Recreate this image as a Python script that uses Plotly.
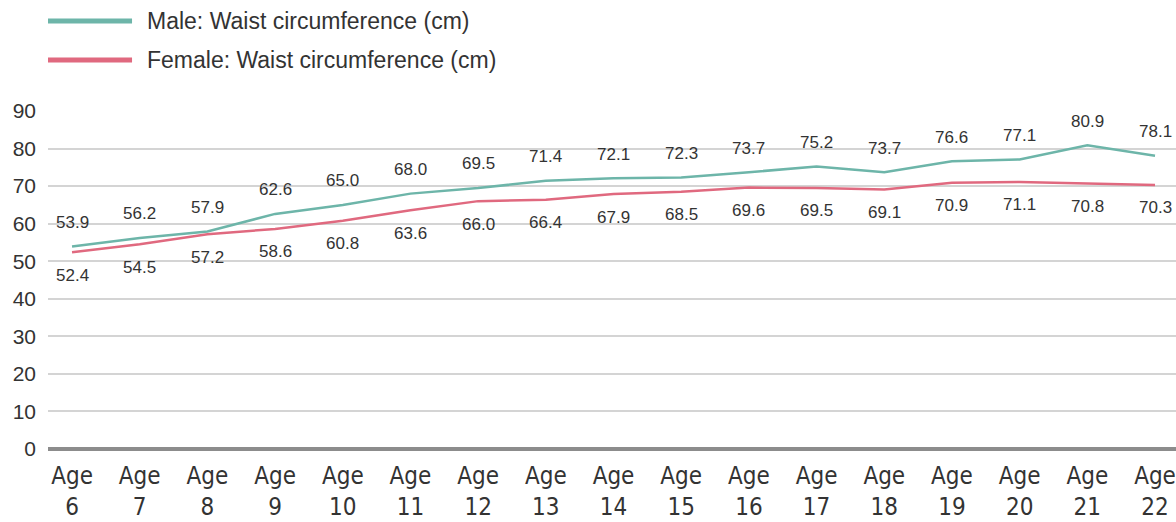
import plotly.graph_objects as go

ages = ["6", "7", "8", "9", "10", "11", "12", "13", "14", "15", "16", "17", "18", "19", "20", "21", "22"]
male = [53.9, 56.2, 57.9, 62.6, 65.0, 68.0, 69.5, 71.4, 72.1, 72.3, 73.7, 75.2, 73.7, 76.6, 77.1, 80.9, 78.1]
female = [52.4, 54.5, 57.2, 58.6, 60.8, 63.6, 66.0, 66.4, 67.9, 68.5, 69.6, 69.5, 69.1, 70.9, 71.1, 70.8, 70.3]
y_ticks = [0, 10, 20, 30, 40, 50, 60, 70, 80, 90]
male_name = "Male: Waist circumference (cm)"
female_name = "Female: Waist circumference (cm)"

MALE_C = "#6db5a9"
FEMALE_C = "#e0697f"
TXT = "#333333"

xs = list(range(len(ages)))
fig = go.Figure()
fig.add_trace(go.Scatter(x=xs, y=male, mode="lines", line=dict(color=MALE_C, width=2.5),
                         name=male_name, showlegend=False, hoverinfo="y"))
fig.add_trace(go.Scatter(x=xs, y=female, mode="lines", line=dict(color=FEMALE_C, width=2.5),
                         name=female_name, showlegend=False, hoverinfo="y"))

annotations = []
for i, v in enumerate(male):
    annotations.append(dict(x=i, y=v, text=f"{v:.1f}", showarrow=False, yshift=24,
                            xanchor="center", yanchor="middle",
                            font=dict(family="Liberation Sans, Arial, sans-serif", size=17, color=TXT)))
for i, v in enumerate(female):
    annotations.append(dict(x=i, y=v, text=f"{v:.1f}", showarrow=False, yshift=-23,
                            xanchor="center", yanchor="middle",
                            font=dict(family="Liberation Sans, Arial, sans-serif", size=17, color=TXT)))

# custom legend
shapes = []
for yy, col, name in [(1.266, MALE_C, male_name), (1.151, FEMALE_C, female_name)]:
    shapes.append(dict(type="line", xref="paper", yref="paper", x0=0, x1=0.0745, y0=yy, y1=yy,
                       line=dict(color=col, width=5)))
    annotations.append(dict(xref="paper", yref="paper", x=0.086, y=yy, text=name, showarrow=False,
                            xanchor="left", yanchor="middle",
                            font=dict(family="Liberation Sans, Arial, sans-serif", size=23, color=TXT)))

fig.update_layout(
    width=1176, height=522,
    margin=dict(l=48, r=0, t=111, b=73),
    paper_bgcolor="white", plot_bgcolor="white",
    annotations=annotations, shapes=shapes,
    showlegend=False,
    xaxis=dict(
        tickmode="array", tickvals=xs, ticktext=[f"Age<br>{a}" for a in ages],
        range=[-0.355, 16.31], showgrid=False, zeroline=False, showline=False,
        ticks="", ticklabelstandoff=10,
        tickfont=dict(family="Liberation Sans Narrow, DejaVu Sans Condensed, sans-serif", size=24, color=TXT),
    ),
    yaxis=dict(
        range=[0, 90], tickmode="array", tickvals=y_ticks,
        showgrid=True, gridcolor="#d4d4d4", gridwidth=2,
        zeroline=True, zerolinecolor="#8c8c8c", zerolinewidth=4,
        showline=False, ticks="", ticklabelstandoff=11,
        tickfont=dict(family="Liberation Sans, Arial, sans-serif", size=21, color=TXT),
    ),
)

fig.write_html("out.html", config={"displayModeBar": False},
               post_script="document.body.style.margin='0';document.body.style.overflow='hidden';")
